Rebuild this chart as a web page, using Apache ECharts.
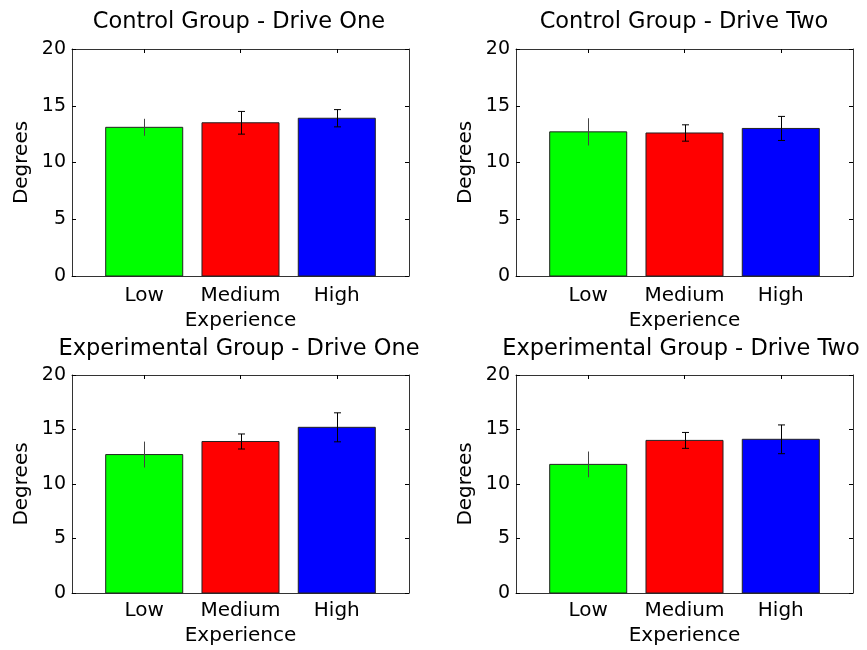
<!DOCTYPE html>
<html>
<head>
<meta charset="utf-8">
<script src="https://cdn.jsdelivr.net/npm/echarts@6/dist/echarts.min.js"></script>
<style>
  html, body { margin: 0; padding: 0; background: #fff; }
  #main { width: 867px; height: 650px; }
</style>
</head>
<body>
<div id="main"></div>
<script>
const categories = ["Low", "Medium", "High"];
const positions = [1, 2, 3];

const titles = [
  "Control Group - Drive One",
  "Control Group - Drive Two",
  "Experimental Group - Drive One",
  "Experimental Group - Drive Two",
];

// mean values (Low, Medium, High)
const controlOne = [13.1, 13.5, 13.9];
const controlTwo = [12.7, 12.6, 13.0];
const experimentalOne = [12.7, 13.9, 15.2];
const experimentalTwo = [11.8, 14.0, 14.1];

// error bar half lengths
const controlOneErr = [0.75, 1.0, 0.76];
const controlTwoErr = [1.2, 0.72, 1.06];
const experimentalOneErr = [1.19, 0.69, 1.33];
const experimentalTwoErr = [1.18, 0.73, 1.32];

const means = [controlOne, controlTwo, experimentalOne, experimentalTwo];
const errors = [controlOneErr, controlTwoErr, experimentalOneErr, experimentalTwoErr];

const barColors = ["#00ff00", "#ff0000", "#0000ff"];
const font = "DejaVu Sans";

const grids = [
  { left: 72, top: 49, width: 337, height: 227 },
  { left: 516, top: 49, width: 337, height: 227 },
  { left: 72, top: 375, width: 337, height: 218 },
  { left: 516, top: 375, width: 337, height: 218 },
];
const titleCenters = [
  { x: 239, y: 11 },
  { x: 684, y: 11 },
  { x: 239, y: 338 },
  { x: 681, y: 338 },
];
const labelMargins = [10, 10, 8, 8];
const nameGaps = [35, 35, 33, 33];

const xAxes = [];
const yAxes = [];
const series = [];

grids.forEach((g, i) => {
  xAxes.push({
    type: "value",
    gridIndex: i,
    position: "bottom",
    min: 0.25,
    max: 3.75,
    name: "Experience",
    nameLocation: "middle",
    nameGap: nameGaps[i],
    nameTextStyle: { fontFamily: font, fontSize: 20, color: "#000" },
    splitLine: { show: false },
    axisLine: { onZero: false, lineStyle: { color: "#333", width: 1 } },
    axisTick: { inside: true, length: 4, customValues: positions, lineStyle: { color: "#000" } },
    axisLabel: {
      customValues: positions,
      margin: labelMargins[i],
      fontFamily: font,
      fontSize: 20,
      color: "#000",
      formatter: (v) => categories[Math.round(v) - 1],
    },
  });
  yAxes.push({
    type: "value",
    gridIndex: i,
    position: "left",
    min: 0,
    max: 20,
    interval: 5,
    name: "Degrees",
    nameLocation: "middle",
    nameRotate: 90,
    nameGap: 40,
    nameTextStyle: { fontFamily: font, fontSize: 20, color: "#000" },
    splitLine: { show: false },
    axisLine: { show: true, lineStyle: { color: "#333", width: 1 } },
    axisTick: { inside: true, length: 4, lineStyle: { color: "#000" } },
    axisLabel: { margin: 6, fontFamily: font, fontSize: 19, color: "#000" },
  });
});

// mirror axes to close the box (top and right)
grids.forEach((g, i) => {
  xAxes.push({
    type: "value",
    gridIndex: i,
    position: "top",
    min: 0.25,
    max: 3.75,
    splitLine: { show: false },
    axisLine: { onZero: false, lineStyle: { color: "#333", width: 1 } },
    axisTick: { inside: true, length: 4, customValues: positions, lineStyle: { color: "#000" } },
    axisLabel: { show: false },
  });
  yAxes.push({
    type: "value",
    gridIndex: i,
    position: "right",
    min: 0,
    max: 20,
    interval: 5,
    splitLine: { show: false },
    axisLine: { show: true, lineStyle: { color: "#333", width: 1 } },
    axisTick: { inside: true, length: 4, lineStyle: { color: "#000" } },
    axisLabel: { show: false },
  });
});

means.forEach((vals, i) => {
  series.push({
    type: "custom",
    xAxisIndex: i,
    yAxisIndex: i,
    encode: { x: 0, y: 1 },
    data: vals.map((v, k) => [positions[k], v, errors[i][k]]),
    renderItem: (params, api) => {
      const x = api.value(0);
      const y = api.value(1);
      const e = api.value(2);
      const idx = params.dataIndex;
      const tl = api.coord([x - 0.4, y]);
      const br = api.coord([x + 0.4, 0]);
      const c = api.coord([x, y]);
      const hi = api.coord([x, y + e]);
      const lo = api.coord([x, y - e]);
      const cx = Math.round(c[0]) + 0.5;
      const cap = idx === 0 ? 0 : 3.5;
      const errColor = idx === 0 ? "#444" : "#000";
      const children = [
        {
          type: "rect",
          shape: { x: tl[0], y: tl[1], width: br[0] - tl[0], height: br[1] - tl[1] },
          style: { fill: barColors[idx], stroke: "#222", lineWidth: 1 },
        },
        {
          type: "line",
          shape: { x1: cx, y1: hi[1], x2: cx, y2: lo[1] },
          style: { stroke: errColor, lineWidth: 1 },
        },
      ];
      if (cap > 0) {
        children.push(
          { type: "line", shape: { x1: cx - cap, y1: hi[1], x2: cx + cap, y2: hi[1] }, style: { stroke: errColor, lineWidth: 1 } },
          { type: "line", shape: { x1: cx - cap, y1: lo[1], x2: cx + cap, y2: lo[1] }, style: { stroke: errColor, lineWidth: 1 } }
        );
      }
      return { type: "group", children: children };
    },
  });
});

const myChart = echarts.init(document.getElementById("main"), null, { renderer: "canvas" });
myChart.setOption({
  animation: false,
  backgroundColor: "#fff",
  title: titles.map((t, i) => ({
    text: t,
    left: titleCenters[i].x,
    top: titleCenters[i].y,
    textAlign: "center",
    padding: 0,
    textStyle: { fontFamily: font, fontSize: 22.5, fontWeight: "normal", color: "#000" },
  })),
  grid: grids,
  xAxis: xAxes,
  yAxis: yAxes,
  series: series,
});
</script>
</body>
</html>
